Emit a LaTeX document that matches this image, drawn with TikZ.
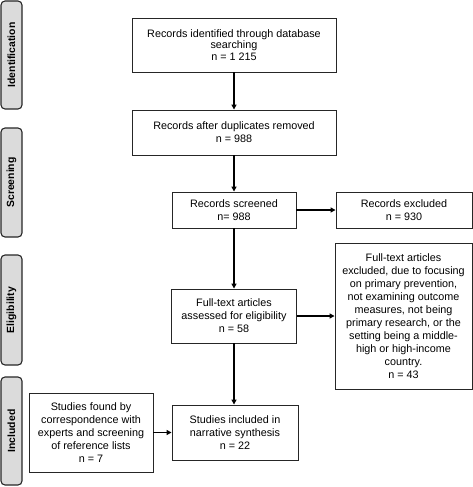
\documentclass[tikz,border=0pt]{standalone}
\usepackage{fontspec}
\setmainfont{Liberation Sans}
\usetikzlibrary{arrows.meta}
\begin{document}
\begin{tikzpicture}[x=1pt,y=-1pt,
  box/.style={draw=black!85, line width=0.9pt, fill=white, align=center, inner sep=0pt,
    font=\fontsize{10.8}{13}\selectfont},
  side/.style={draw=black!85, line width=1.1pt, fill=black!14, rounded corners=4pt, rotate=90,
    minimum height=21, inner sep=0pt, font=\bfseries\fontsize{10.4}{12}\selectfont},
  arr/.style={line width=1.7pt, -{Triangle[length=5pt,width=5pt]}}]
\useasboundingbox (0,0) rectangle (473,487);
% side bars
\node[side, minimum width=108] (s1) at (11.5,55) {Identification};
\node[side, minimum width=109] (s2) at (11.5,182.5) {Screening};
\node[side, minimum width=110] (s3) at (11.5,310) {Eligibility};
\node[side, minimum width=108] (s4) at (11.5,431) {Included};
% boxes
\node[box, minimum width=204, minimum height=54, font=\fontsize{10.8}{11.5}\selectfont] (b1) at (234,45)
  {Records identified through database\\searching\\n = 1 215};
\node[box, minimum width=204, minimum height=45] (b2) at (234,132.5)
  {Records after duplicates removed\\n = 988};
\node[box, minimum width=124, minimum height=36] (b3) at (234,210)
  {Records screened\\n= 988};
\node[box, minimum width=136, minimum height=36] (e1) at (404,210)
  {Records excluded\\n = 930};
\node[box, minimum width=125, minimum height=54] (b4) at (234,316)
  {Full-text articles\\assessed for eligibility\\n = 58};
\node[box, minimum width=137, minimum height=146] (e2) at (403.5,316)
  {Full-text articles\\excluded, due to focusing\\on primary prevention,\\not examining outcome\\measures, not being\\primary research, or the\\setting being a middle-\\high or high-income\\country.\\n = 43};
\node[box, minimum width=126, minimum height=55] (b5) at (235,432.5)
  {Studies included in\\narrative synthesis\\n = 22};
\node[box, minimum width=124, minimum height=79] (sf) at (91,432.5)
  {Studies found by\\correspondence with\\experts and screening\\of reference lists\\n = 7};
% arrows
\draw[arr] (b1.south) -- (b2.north);
\draw[arr] (b2.south) -- (b3.north);
\draw[arr] (b3.east) -- (e1.west);
\draw[arr] (b3.south) -- (b4.north);
\draw[arr] (b4.east) -- (e2.west);
\draw[arr] (b4.south) -- (b4.south |- b5.north);
\draw[arr] (sf.east) -- (sf.east -| b5.west);
\end{tikzpicture}
\end{document}
